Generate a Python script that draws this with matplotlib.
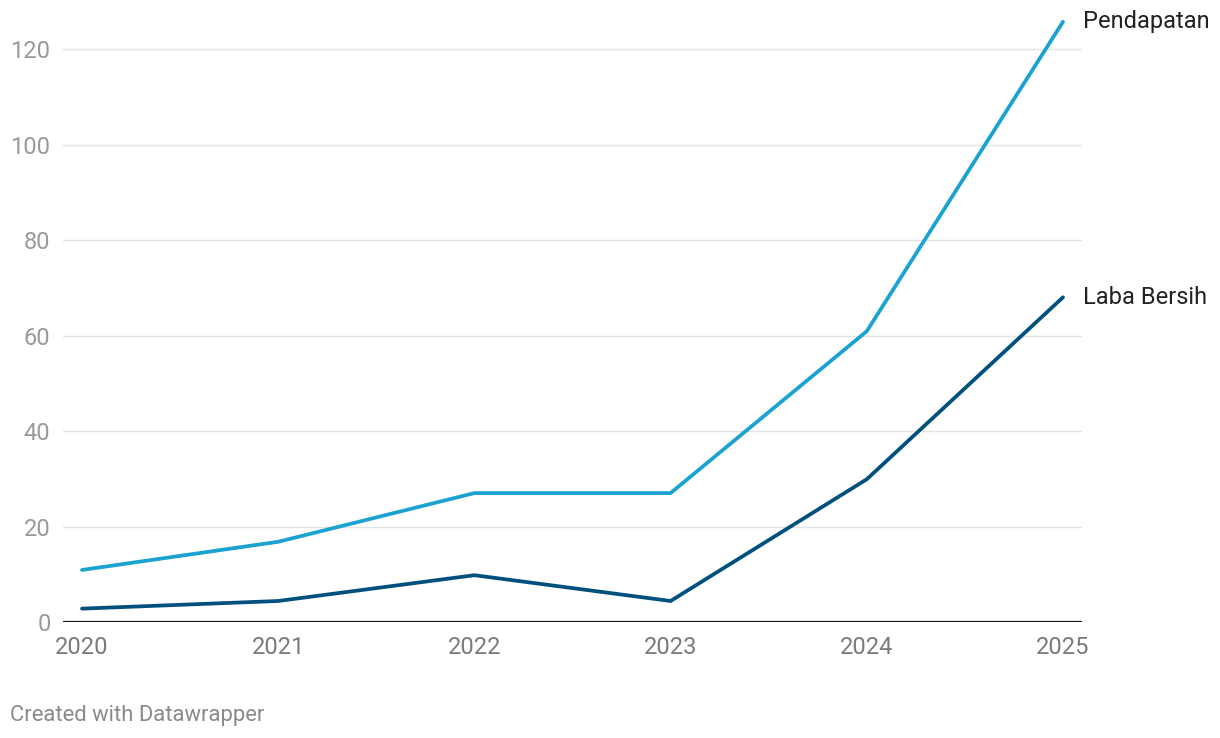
import matplotlib.pyplot as plt

years = [2020, 2021, 2022, 2023, 2024, 2025]
pendapatan = [10.9, 16.8, 27.0, 27.0, 60.9, 125.7]
laba_bersih = [2.8, 4.4, 9.8, 4.4, 29.9, 68.0]
y_ticks = [0, 20, 40, 60, 80, 100, 120]

plt.rcParams['font.family'] = ['Roboto', 'DejaVu Sans']

W, H = 1220, 738
fig = plt.figure(figsize=(W / 100, H / 100), dpi=100)

# axes box in pixel terms
left, right, bottom, top = 63, 1082, 622, 20.35
ax = fig.add_axes([left / W, (H - bottom) / H, (right - left) / W, (bottom - top) / H])

px_per_year = (1063 - 82) / 5
ax.set_xlim(2020 - 19 / px_per_year, 2025 + 19 / px_per_year)
ax.set_ylim(0, 126)

for t in y_ticks[1:]:
    ax.axhline(t, color='#e3e3e3', lw=1, zorder=1)
ax.axhline(0, color='#1a1a1a', lw=1.6, zorder=3)

ax.plot(years, pendapatan, color='#1aa3d0', lw=2.7, solid_capstyle='round',
        solid_joinstyle='miter', zorder=4)
ax.plot(years, laba_bersih, color='#00507e', lw=2.7, solid_capstyle='round',
        solid_joinstyle='miter', zorder=4)

ax.text(2025 + 20 / px_per_year, pendapatan[-1], 'Pendapatan', fontsize=17,
        color='#222222', va='center', ha='left', clip_on=False)
ax.text(2025 + 20 / px_per_year, laba_bersih[-1], 'Laba Bersih', fontsize=17,
        color='#222222', va='center', ha='left', clip_on=False)

for s in ax.spines.values():
    s.set_visible(False)

ax.set_yticks(y_ticks)
ax.set_yticklabels([str(t) for t in y_ticks])
ax.set_xticks(years)
ax.set_xticklabels([str(y) for y in years])
ax.tick_params(axis='y', length=0, pad=9, labelsize=17, labelcolor='#9a9a9a')
ax.tick_params(axis='x', length=0, pad=10, labelsize=17, labelcolor='#7a7a7a')

fig.text(10 / W, 1 - 715 / H, 'Created with Datawrapper', fontsize=15.8,
         color='#8a8a8a', va='center', ha='left')

fig.savefig('out.png', dpi=100)
